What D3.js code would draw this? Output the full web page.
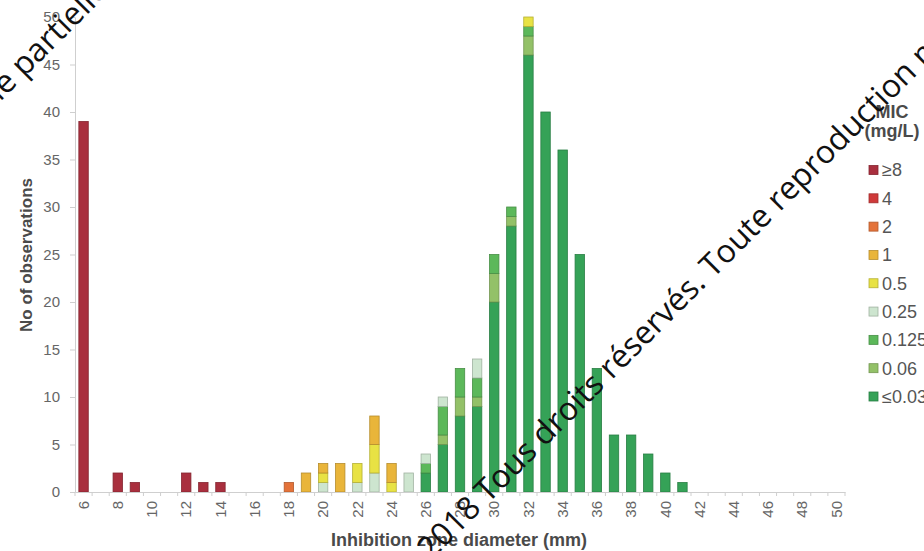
<!DOCTYPE html>
<html>
<head>
<meta charset="utf-8">
<script src="https://cdn.jsdelivr.net/npm/d3@7"></script>
<style>
  html, body { margin: 0; padding: 0; background: #fff; }
  svg { display: block; font-family: "Liberation Sans", Arial, sans-serif; }
</style>
</head>
<body>
<svg id="chart" width="924" height="551"></svg>
<script>
// Inhibition zone diameters (mm), one bar per value
const diameters = [6, 7, 8, 9, 10, 11, 12, 13, 14, 15, 16, 17, 18, 19, 20, 21, 22, 23, 24, 25, 26, 27, 28,
  29, 30, 31, 32, 33, 34, 35, 36, 37, 38, 39, 40, 41, 42, 43, 44, 45, 46, 47, 48, 49, 50];
const xTickLabels = [6, 8, 10, 12, 14, 16, 18, 20, 22, 24, 26, 28, 30, 32, 34, 36, 38, 40, 42, 44, 46, 48, 50];
const yTicks = [0, 5, 10, 15, 20, 25, 30, 35, 40, 45, 50];

// MIC classes (mg/L), legend order, with their colours
const micClasses = ["≥8", "4", "2", "1", "0.5", "0.25", "0.125", "0.06", "≤0.03"];
const micColors = ["#a92f3e", "#cf3a3a", "#e4733a", "#e9b53a", "#e8e244", "#cde5cf", "#5cb85a", "#93c168", "#35a257"];

// Number of observations per diameter (6 … 50 mm) for each MIC class
const obsGe8 = [39, 0, 2, 1, 0, 0, 2, 1, 1, 0, 0, 0, 0, 0, 0, 0, 0, 0, 0, 0, 0, 0, 0,
  0, 0, 0, 0, 0, 0, 0, 0, 0, 0, 0, 0, 0, 0, 0, 0, 0, 0, 0, 0, 0, 0];
const obs4 = [0, 0, 0, 0, 0, 0, 0, 0, 0, 0, 0, 0, 0, 0, 0, 0, 0, 0, 0, 0, 0, 0, 0,
  0, 0, 0, 0, 0, 0, 0, 0, 0, 0, 0, 0, 0, 0, 0, 0, 0, 0, 0, 0, 0, 0];
const obs2 = [0, 0, 0, 0, 0, 0, 0, 0, 0, 0, 0, 0, 1, 0, 0, 0, 0, 0, 0, 0, 0, 0, 0,
  0, 0, 0, 0, 0, 0, 0, 0, 0, 0, 0, 0, 0, 0, 0, 0, 0, 0, 0, 0, 0, 0];
const obs1 = [0, 0, 0, 0, 0, 0, 0, 0, 0, 0, 0, 0, 0, 2, 1, 3, 0, 3, 2, 0, 0, 0, 0,
  0, 0, 0, 0, 0, 0, 0, 0, 0, 0, 0, 0, 0, 0, 0, 0, 0, 0, 0, 0, 0, 0];
const obs05 = [0, 0, 0, 0, 0, 0, 0, 0, 0, 0, 0, 0, 0, 0, 1, 0, 2, 3, 1, 0, 0, 0, 0,
  0, 0, 0, 1, 0, 0, 0, 0, 0, 0, 0, 0, 0, 0, 0, 0, 0, 0, 0, 0, 0, 0];
const obs025 = [0, 0, 0, 0, 0, 0, 0, 0, 0, 0, 0, 0, 0, 0, 1, 0, 1, 2, 0, 2, 1, 1, 0,
  2, 0, 0, 0, 0, 0, 0, 0, 0, 0, 0, 0, 0, 0, 0, 0, 0, 0, 0, 0, 0, 0];
const obs0125 = [0, 0, 0, 0, 0, 0, 0, 0, 0, 0, 0, 0, 0, 0, 0, 0, 0, 0, 0, 0, 1, 3, 3,
  2, 2, 1, 1, 0, 0, 0, 0, 0, 0, 0, 0, 0, 0, 0, 0, 0, 0, 0, 0, 0, 0];
const obs006 = [0, 0, 0, 0, 0, 0, 0, 0, 0, 0, 0, 0, 0, 0, 0, 0, 0, 0, 0, 0, 0, 1, 2,
  1, 3, 1, 2, 0, 0, 0, 0, 0, 0, 0, 0, 0, 0, 0, 0, 0, 0, 0, 0, 0, 0];
const obsLe003 = [0, 0, 0, 0, 0, 0, 0, 0, 0, 0, 0, 0, 0, 0, 0, 0, 0, 0, 0, 0, 2, 5, 8,
  9, 20, 28, 46, 40, 36, 25, 13, 6, 6, 4, 2, 1, 0, 0, 0, 0, 0, 0, 0, 0, 0];

const seriesByClass = {
  "≥8": obsGe8, "4": obs4, "2": obs2, "1": obs1, "0.5": obs05,
  "0.25": obs025, "0.125": obs0125, "0.06": obs006, "≤0.03": obsLe003
};
// stacked from the lowest MIC at the bottom up to the highest
const stackOrder = micClasses.slice().reverse();
const colorOf = d3.scaleOrdinal().domain(micClasses).range(micColors);

const table = diameters.map((d, i) => {
  const row = { diameter: d };
  micClasses.forEach(k => { row[k] = seriesByClass[k][i]; });
  return row;
});

const svg = d3.select("#chart");

const x = d3.scaleBand().domain(diameters).range([75, 845]).paddingInner(0.45).paddingOuter(0.225);
const y = d3.scaleLinear().domain([0, 50]).range([492, 17]);

const axisColor = "#cfcfcf";
const labelColor = "#666";
const titleColor = "#4a4a4a";

// bars
const layers = d3.stack().keys(stackOrder)(table);
svg.append("g").selectAll("g")
  .data(layers)
  .join("g")
  .attr("fill", l => colorOf(l.key))
  .attr("stroke", l => d3.color(colorOf(l.key)).darker(0.7))
  .attr("stroke-width", 0.8)
  .selectAll("rect")
  .data(l => l.filter(p => p[1] - p[0] > 0))
  .join("rect")
  .attr("x", p => x(p.data.diameter))
  .attr("y", p => y(p[1]))
  .attr("width", x.bandwidth())
  .attr("height", p => y(p[0]) - y(p[1]));

// y axis
const yAxis = svg.append("g")
  .attr("transform", "translate(75,0)")
  .call(d3.axisLeft(y).tickValues(yTicks).tickSize(5).tickSizeOuter(0).tickPadding(10));
yAxis.select(".domain").attr("stroke", axisColor);
yAxis.selectAll(".tick line").attr("stroke", axisColor);
yAxis.selectAll("text").attr("fill", labelColor).style("font-size", "15px");

// x axis
const xAxis = svg.append("g")
  .attr("transform", "translate(0,492)")
  .call(d3.axisBottom(x).tickValues(xTickLabels).tickSize(0).tickSizeOuter(0));
xAxis.select(".domain").attr("stroke", axisColor);
xAxis.selectAll("text")
  .attr("transform", "rotate(-90)")
  .attr("x", -9).attr("y", 0).attr("dy", "0.35em")
  .style("text-anchor", "end")
  .style("font-size", "15px")
  .attr("fill", labelColor);

// small ticks between categories
const gap = x.step() - x.bandwidth();
const bounds = diameters.map(d => x(d) - gap / 2).concat([x(diameters[diameters.length - 1]) + x.bandwidth() + gap / 2]);
xAxis.append("g").selectAll("line")
  .data(bounds)
  .join("line")
  .attr("x1", b => b).attr("x2", b => b)
  .attr("y1", 0).attr("y2", 4)
  .attr("stroke", axisColor);

// axis titles
svg.append("text")
  .attr("transform", "translate(26,255) rotate(-90)")
  .attr("dy", "0.35em")
  .attr("text-anchor", "middle")
  .attr("fill", titleColor)
  .style("font-size", "17px").style("font-weight", "bold")
  .text("No of observations");

svg.append("text")
  .attr("x", 459).attr("y", 546)
  .attr("text-anchor", "middle")
  .attr("fill", titleColor)
  .style("font-size", "18px").style("font-weight", "bold")
  .text("Inhibition zone diameter (mm)");

// legend
const legend = svg.append("g");
legend.append("text")
  .attr("x", 892).attr("y", 118)
  .attr("text-anchor", "middle")
  .attr("fill", titleColor)
  .style("font-size", "18px").style("font-weight", "bold")
  .text("MIC");
legend.append("text")
  .attr("x", 892).attr("y", 137)
  .attr("text-anchor", "middle")
  .attr("fill", titleColor)
  .style("font-size", "18px").style("font-weight", "bold")
  .text("(mg/L)");

const rowY = d3.scalePoint().domain(micClasses).range([170, 396.5]);
const item = legend.selectAll("g.item")
  .data(micClasses)
  .join("g")
  .attr("class", "item")
  .attr("transform", k => `translate(869,${rowY(k)})`);
item.append("rect")
  .attr("x", 0).attr("y", -4.5).attr("width", 9).attr("height", 9)
  .attr("fill", k => colorOf(k))
  .attr("stroke", k => d3.color(colorOf(k)).darker(0.7))
  .attr("stroke-width", 0.8);
item.append("text")
  .attr("x", 13).attr("dy", "0.35em")
  .attr("fill", "#555")
  .style("font-size", "18px")
  .text(k => k);

// diagonal copyright notice across the figure
const noticeLines = [
  { at: [24, 78], before: "© 2018 Tous droits réservés. Toute reproduction même", after: "partielle interdite" },
  { at: [488, 504], before: "© 2018", after: "Tous droits réservés. Toute reproduction même partielle interdite" }
];
const notice = svg.append("g")
  .style("font-family", "'Open Sans', 'Noto Sans', sans-serif")
  .style("font-size", "32px")
  .attr("fill", "#111");
noticeLines.forEach(n => {
  const g = notice.append("g").attr("transform", `translate(${n.at[0]},${n.at[1]}) rotate(-45)`);
  g.append("text").attr("x", -8).attr("text-anchor", "end").text(n.before);
  g.append("text").attr("x", 0).attr("text-anchor", "start").text(n.after);
});
</script>
</body>
</html>
